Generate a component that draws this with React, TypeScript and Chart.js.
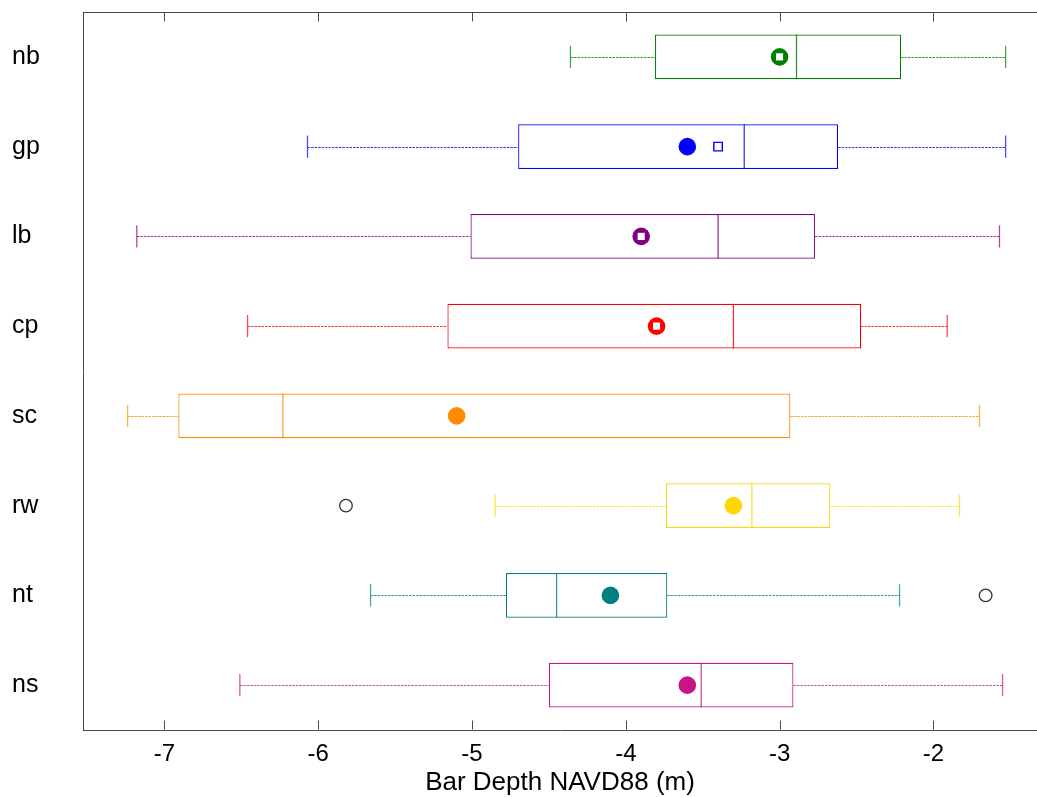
import React, { useEffect, useRef } from 'react';
import { Chart, registerables } from 'chart.js';

Chart.register(...registerables);

// ---- data ----
const categories = ['nb', 'gp', 'lb', 'cp', 'sc', 'rw', 'nt', 'ns'];
const whiskerLow = [-4.36, -6.07, -7.18, -6.46, -7.24, -4.85, -5.66, -6.51];
const q1 = [-3.81, -4.70, -5.01, -5.16, -6.91, -3.74, -4.78, -4.50];
const median = [-2.89, -3.23, -3.40, -3.30, -6.23, -3.18, -4.45, -3.51];
const q3 = [-2.21, -2.62, -2.77, -2.47, -2.93, -2.67, -3.73, -2.91];
const whiskerHigh = [-1.53, -1.53, -1.57, -1.91, -1.70, -1.83, -2.22, -1.55];
const means = [-3.0, -3.6, -3.9, -3.8, -5.1, -3.3, -4.1, -3.6];
const squareMarks: (number | null)[] = [-3.0, -3.4, -3.9, -3.8, null, null, null, null];
const outlierCats = ['rw', 'nt'];
const outlierValues = [-5.82, -1.66];
const xTicks = [-7, -6, -5, -4, -3, -2];
const xMin = -7.53;
const xMax = -1.326;
const colors = ['#008000', '#0000ff', '#800080', '#ff0000', '#ff8c00', '#ffd700', '#008080', '#c71585'];

const FONT = "'Liberation Sans', Arial, Helvetica, sans-serif";
const FRAME = '#4a4a4a';

const boxPlugin = {
  id: 'boxExtras',
  beforeDatasetsDraw(chart: any) {
    const { ctx, chartArea } = chart;
    const xs = chart.scales.x;
    ctx.save();
    ctx.strokeStyle = FRAME;
    ctx.lineWidth = 1;
    ctx.beginPath();
    const top = Math.round(chartArea.top) + 0.5;
    ctx.moveTo(chartArea.left, top);
    ctx.lineTo(chartArea.right, top);
    const bottom = Math.round(chartArea.bottom) - 0.5;
    xTicks.forEach((t) => {
      const px = Math.round(xs.getPixelForValue(t)) + 0.5;
      ctx.moveTo(px, top);
      ctx.lineTo(px, top + 9);
      ctx.moveTo(px, bottom);
      ctx.lineTo(px, bottom - 9);
    });
    ctx.stroke();
    ctx.restore();
  },
  afterDatasetDraw(chart: any, args: any) {
    if (args.index !== 0) return;
    const ctx = chart.ctx;
    const xs = chart.scales.x;
    const ys = chart.scales.y;
    const step = ys.getPixelForValue(1) - ys.getPixelForValue(0);
    const capH = step * 0.25;
    const meta = chart.getDatasetMeta(0);
    categories.forEach((_c, i) => {
      const bar = meta.data[i];
      const { y, height } = bar.getProps(['y', 'height'], true);
      const yy = Math.round(y) + 0.5;
      const xl = xs.getPixelForValue(whiskerLow[i]);
      const xq1 = xs.getPixelForValue(q1[i]);
      const xq3 = xs.getPixelForValue(q3[i]);
      const xh = xs.getPixelForValue(whiskerHigh[i]);
      const xm = xs.getPixelForValue(median[i]);
      ctx.save();
      ctx.strokeStyle = colors[i];
      ctx.lineWidth = 1;
      ctx.globalAlpha = 0.8;
      ctx.setLineDash([2.5, 1]);
      ctx.beginPath();
      ctx.moveTo(xl, yy);
      ctx.lineTo(xq1, yy);
      ctx.moveTo(xq3, yy);
      ctx.lineTo(xh, yy);
      ctx.stroke();
      ctx.setLineDash([]);
      ctx.globalAlpha = 0.7;
      ctx.lineWidth = 1.3;
      ctx.beginPath();
      ctx.moveTo(xl, y - capH / 2);
      ctx.lineTo(xl, y + capH / 2);
      ctx.moveTo(xh, y - capH / 2);
      ctx.lineTo(xh, y + capH / 2);
      ctx.stroke();
      ctx.globalAlpha = 0.85;
      ctx.lineWidth = 1.2;
      ctx.beginPath();
      ctx.moveTo(xm, y - height / 2);
      ctx.lineTo(xm, y + height / 2);
      ctx.stroke();
      ctx.restore();
    });
  },
};

export default function App() {
  const ref = useRef<HTMLCanvasElement | null>(null);
  useEffect(() => {
    if (!ref.current) return;
    const sqIdx = squareMarks.map((v, i) => (v === null ? -1 : i)).filter((i) => i >= 0);
    const chart = new Chart(ref.current, {
      type: 'bar',
      data: {
        labels: categories,
        datasets: [
          {
            type: 'bar',
            data: q1.map((v, i) => [v, q3[i]]) as any,
            backgroundColor: '#ffffff',
            borderColor: colors,
            borderWidth: 1.2,
            borderSkipped: false,
            barPercentage: 0.5,
            categoryPercentage: 1,
            order: 4,
          } as any,
          {
            type: 'scatter',
            data: categories.map((c, i) => ({ x: means[i], y: c })) as any,
            pointStyle: 'circle',
            pointRadius: 8.8,
            pointBackgroundColor: colors,
            pointBorderColor: colors,
            pointBorderWidth: 0,
            order: 3,
          } as any,
          {
            type: 'scatter',
            data: sqIdx.map((i) => ({ x: squareMarks[i], y: categories[i] })) as any,
            pointStyle: 'rect',
            pointRadius: 6,
            pointBackgroundColor: '#ffffff',
            pointBorderColor: sqIdx.map((i) => colors[i]),
            pointBorderWidth: 1.4,
            order: 2,
          } as any,
          {
            type: 'scatter',
            data: outlierCats.map((c, i) => ({ x: outlierValues[i], y: c })) as any,
            pointStyle: 'circle',
            pointRadius: 6.3,
            pointBackgroundColor: 'rgba(255,255,255,0)',
            pointBorderColor: '#333333',
            pointBorderWidth: 1.3,
            order: 1,
          } as any,
        ],
      },
      options: {
        indexAxis: 'y',
        responsive: false,
        animation: false,
        devicePixelRatio: 1,
        layout: { autoPadding: false, padding: { left: 12, top: 12, right: 0, bottom: 0 } },
        plugins: { legend: { display: false }, tooltip: { enabled: false } },
        scales: {
          x: {
            type: 'linear',
            position: 'bottom',
            min: xMin,
            max: xMax,
            grid: { display: false, drawTicks: false },
            border: { display: true, color: FRAME, width: 1 },
            ticks: {
              stepSize: 1,
              includeBounds: false,
              padding: 10,
              color: '#000000',
              font: { family: FONT, size: 24 },
              callback: (v: any) => String(v),
            },
            title: {
              display: true,
              text: 'Bar Depth NAVD88 (m)',
              color: '#000000',
              font: { family: FONT, size: 26, lineHeight: 1 },
              padding: { top: 0, bottom: 1.5 },
            },
            afterFit: (s: any) => {
              s.height = 67;
            },
          },
          y: {
            type: 'category',
            position: 'left',
            offset: true,
            grid: { display: false, drawTicks: false },
            border: { display: true, color: FRAME, width: 1 },
            ticks: {
              crossAlign: 'far',
              padding: 0,
              color: '#000000',
              font: { family: FONT, size: 25, lineHeight: 0.9 },
            },
            afterFit: (s: any) => {
              s.width = 71;
              s.paddingTop = 0;
              s.paddingBottom = 0;
            },
          },
        },
      } as any,
      plugins: [boxPlugin as any],
    });
    return () => chart.destroy();
  }, []);
  return (
    <div style={{ position: 'fixed', left: 0, top: 0, width: 1037, height: 797, background: '#ffffff' }}>
      <canvas ref={ref} width={1037} height={797} style={{ display: 'block' }} />
    </div>
  );
}
